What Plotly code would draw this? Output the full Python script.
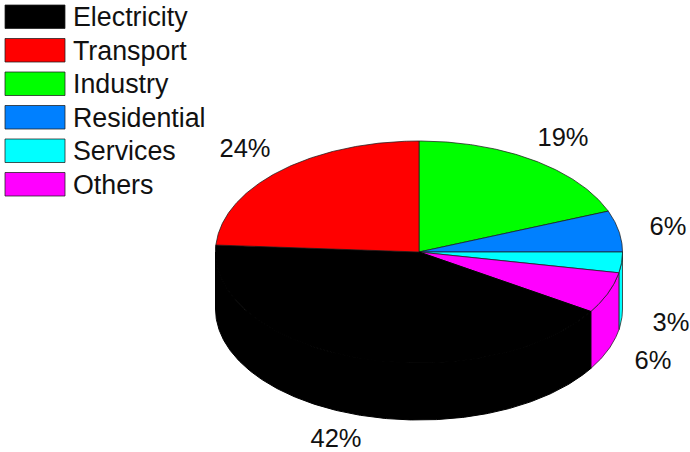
import numpy as np
import plotly.graph_objects as go

# Energy shares, in legend order
categories = ["Electricity", "Transport", "Industry", "Residential", "Services", "Others"]
shares = [42, 24, 19, 6, 3, 6]
colors = ["#000000", "#ff0000", "#00ff00", "#0080ff", "#00ffff", "#ff00ff"]

# Slices run clockwise from twelve o'clock in this order
slice_order = ["Industry", "Residential", "Services", "Others", "Electricity", "Transport"]

# Pie geometry on the pixel-scaled axes
CX, CY, RX, RY, DEPTH = 419, 252, 203.5, 111, 57
EDGE = "rgba(30,30,30,0.75)"

# Percentage label centres
label_pos = {
    "Electricity": (336, 441),
    "Transport": (245, 151),
    "Industry": (563, 140),
    "Residential": (668, 229),
    "Services": (671, 325),
    "Others": (653, 363),
}


def rim(a0, a1, dy=0.0):
    """Rim points between two clockwise angles measured from the top, in degrees."""
    t = np.radians(np.linspace(a0, a1, max(int(abs(a1 - a0) * 2), 2)))
    return CX + RX * np.sin(t), CY - RY * np.cos(t) + dy


def outline(name):
    # The black slice keeps a solid silhouette, with no seam between top and wall
    return "#000000" if name == "Electricity" else EDGE


fig = go.Figure()
lookup = dict(zip(categories, zip(shares, colors)))

# Walls first, so the top faces cover their upper edges
start = 0.0
spans = {}
for name in slice_order:
    value, color = lookup[name]
    end = start + value * 3.6
    spans[name] = (start, end)
    lo, hi = max(start, 90), min(end, 270)
    if lo < hi:
        tx, ty = rim(lo, hi)
        bx, by = rim(hi, lo, DEPTH)
        fig.add_trace(go.Scatter(
            x=np.r_[tx, bx, tx[0]], y=np.r_[ty, by, ty[0]],
            mode="lines", fill="toself", fillcolor=color,
            line=dict(color=outline(name), width=1), name=name,
            hoverinfo="name", showlegend=False,
        ))
    start = end

# Top faces
for name in slice_order:
    value, color = lookup[name]
    rx_, ry_ = rim(*spans[name])
    fig.add_trace(go.Scatter(
        x=np.r_[CX, rx_, CX], y=np.r_[CY, ry_, CY],
        mode="lines", fill="toself", fillcolor=color,
        line=dict(color=outline(name), width=1), name=name,
        hovertemplate=f"{name}: {value}%<extra></extra>", showlegend=False,
    ))

# Percentage labels
fig.add_trace(go.Scatter(
    x=[label_pos[name][0] for name in categories],
    y=[label_pos[name][1] for name in categories],
    text=[f"{value}%" for value in shares],
    mode="text", textposition="middle center", hoverinfo="skip", showlegend=False,
    textfont=dict(family="Liberation Sans", size=25.5, color="#111111"),
))

# Legend: a column of colour boxes with names beside them
shapes = []
annotations = []
for i, (name, color) in enumerate(zip(categories, colors)):
    top = 5 + i * 33.5
    shapes.append(dict(type="rect", x0=5, x1=65, y0=top, y1=top + 23.5,
                       fillcolor=color, line=dict(color=EDGE, width=1)))
    annotations.append(dict(x=70.5, y=top + 12, text=name, showarrow=False,
                            xanchor="left", yanchor="middle",
                            font=dict(family="Liberation Sans", size=26.8, color="#111111")))

fig.update_layout(
    width=690, height=452, autosize=False,
    margin=dict(l=0, r=0, t=0, b=0),
    paper_bgcolor="white", plot_bgcolor="white",
    xaxis=dict(range=[0, 690], visible=False, fixedrange=True),
    yaxis=dict(range=[452, 0], visible=False, fixedrange=True),
    annotations=annotations, shapes=shapes, showlegend=False,
)
fig.write_html("out.html")
